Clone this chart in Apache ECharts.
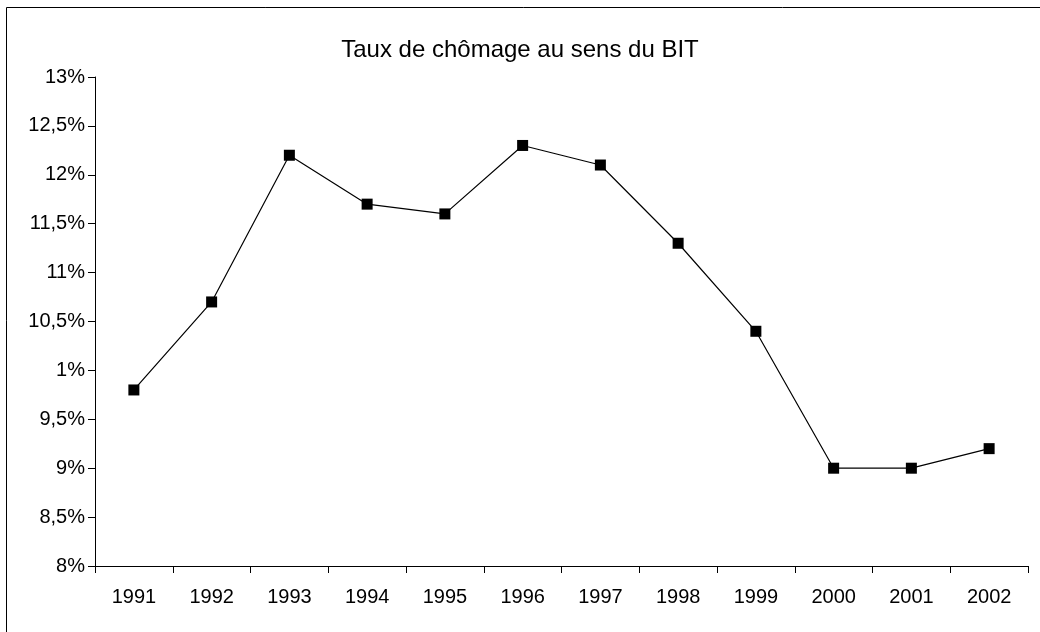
<!DOCTYPE html>
<html>
<head>
<meta charset="utf-8">
<title>Taux de chômage au sens du BIT</title>
<script src="https://cdn.jsdelivr.net/npm/echarts@6/dist/echarts.min.js"></script>
<style>
  html, body { margin: 0; padding: 0; background: #fff; }
  #chart { width: 1040px; height: 632px; }
</style>
</head>
<body>
<div id="chart"></div>
<script>
// années et taux de chômage (%)
var years = ['1991', '1992', '1993', '1994', '1995', '1996', '1997', '1998', '1999', '2000', '2001', '2002'];
var rates = [9.8, 10.7, 12.2, 11.7, 11.6, 12.3, 12.1, 11.3, 10.4, 9.0, 9.0, 9.2];
// libellés de l'axe tels qu'ils figurent sur le graphique d'origine (10% affiché "1%")
var yLabels = {
  8: '8%', 8.5: '8,5%', 9: '9%', 9.5: '9,5%', 10: '1%', 10.5: '10,5%',
  11: '11%', 11.5: '11,5%', 12: '12%', 12.5: '12,5%', 13: '13%'
};

var font = 'Liberation Sans, Arial, sans-serif';
var chart = echarts.init(document.getElementById('chart'));

chart.setOption({
  animation: false,
  backgroundColor: '#fff',
  title: {
    text: 'Taux de chômage au sens du BIT',
    left: 'center',
    top: 33,
    textStyle: { fontFamily: font, fontSize: 24, fontWeight: 'normal', color: '#000' }
  },
  graphic: [{
    type: 'rect',
    shape: { x: 6.5, y: 7.5, width: 1100, height: 700 },
    style: { fill: 'none', stroke: '#000', lineWidth: 1 },
    silent: true
  }],
  grid: { left: 95, right: 12, top: 77, bottom: 66 },
  xAxis: {
    type: 'category',
    data: years,
    boundaryGap: true,
    axisLine: { lineStyle: { color: '#000', width: 1 } },
    axisTick: { show: true, alignWithLabel: false, length: 7, lineStyle: { color: '#000' } },
    axisLabel: { fontFamily: font, fontSize: 20, color: '#000', margin: 21 },
    splitLine: { show: false }
  },
  yAxis: {
    type: 'value',
    min: 8,
    max: 13,
    interval: 0.5,
    axisLine: { show: true, lineStyle: { color: '#000', width: 1 } },
    axisTick: { show: true, length: 7, lineStyle: { color: '#000' } },
    axisLabel: {
      fontFamily: font, fontSize: 20, color: '#000', margin: 10,
      formatter: function (v) { return yLabels[Math.round(v * 10) / 10] || ''; }
    },
    splitLine: { show: false }
  },
  series: [{
    type: 'line',
    data: rates,
    symbol: 'rect',
    symbolSize: 11,
    itemStyle: { color: '#000' },
    lineStyle: { color: '#000', width: 1.2 }
  }]
});
</script>
</body>
</html>
